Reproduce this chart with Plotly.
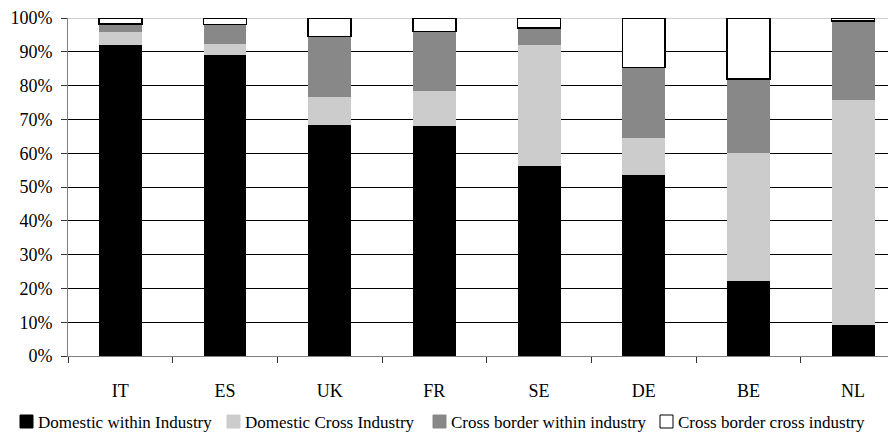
import plotly.graph_objects as go

countries = ["IT", "ES", "UK", "FR", "SE", "DE", "BE", "NL"]
domestic_within = [92.1, 89.0, 68.4, 68.0, 56.3, 53.6, 22.3, 9.1]
domestic_cross = [3.8, 3.2, 8.3, 10.4, 35.6, 10.9, 37.8, 66.5]
cross_border_within = [2.4, 5.9, 17.9, 17.6, 5.2, 20.8, 21.9, 23.5]
cross_border_cross = [1.7, 1.9, 5.4, 4.0, 2.9, 14.7, 18.0, 0.9]
series_names = ["Domestic within Industry", "Domestic Cross Industry",
                "Cross border within industry", "Cross border cross industry"]
y_ticks = list(range(0, 101, 10))
y_labels = [f"{v}%" for v in y_ticks]

fills = ["#000000", "#cccccc", "#888888", "#ffffff"]
outlines = ["#000000", "#cccccc", "#888888", "#000000"]
outline_w = [0, 0, 0, 1.5]
values = [domestic_within, domestic_cross, cross_border_within, cross_border_cross]

# page has an 8px body margin; compensate in figure size
W, H = 888, 429
ML, MR, MT, MB = 60, 0, 10, 81
PW, PH = W - ML - MR, H - MT - MB

fig = go.Figure()
for name, vals, col, lcol, lw in zip(series_names, values, fills, outlines, outline_w):
    fig.add_trace(go.Bar(
        x=countries, y=vals, name=name, showlegend=False,
        marker=dict(color=col, line=dict(color=lcol, width=lw)),
    ))

font = "Liberation Serif, Times New Roman, serif"

def px_x(sx):
    return (sx - 8 - ML) / PW

def px_y(sy):
    return (H - MB - (sy - 8)) / PH

# manual legend (screen pixel positions of squares)
legend_left = [20, 227, 433, 660]
sq = 13
legend_top = 415
for name, left, col in zip(series_names, legend_left, fills):
    fig.add_shape(type="rect", xref="paper", yref="paper",
                  x0=px_x(left), x1=px_x(left + sq),
                  y0=px_y(legend_top + sq), y1=px_y(legend_top),
                  fillcolor=col, line=dict(color="#000000" if col == "#ffffff" else col, width=1))
    fig.add_annotation(xref="paper", yref="paper", x=px_x(left + sq + 3),
                       y=px_y(legend_top + sq / 2 + 1), text=name, showarrow=False,
                       xanchor="left", yanchor="middle",
                       font=dict(family=font, size=17, color="black"))

# lighter top border line
fig.add_shape(type="line", xref="paper", yref="y", x0=0, x1=1, y0=100, y1=100,
              line=dict(color="#a0a0a0", width=1), layer="below")

fig.update_layout(
    width=W, height=H,
    barmode="stack", bargap=0.59,
    plot_bgcolor="white", paper_bgcolor="white",
    margin=dict(l=ML, r=MR, t=MT, b=MB, autoexpand=False),
    font=dict(family=font, size=18, color="black"),
    showlegend=False,
    xaxis=dict(
        range=[-0.5, 7.41], showline=True, linecolor="#808080", linewidth=1,
        ticks="outside", tickson="boundaries", ticklen=6, tickcolor="#333333",
        tickfont=dict(size=18), showgrid=False, ticklabelstandoff=18,
    ),
    yaxis=dict(
        range=[0, 100], tickvals=y_ticks, ticktext=y_labels,
        showline=True, linecolor="#808080", linewidth=1,
        ticks="outside", ticklen=6, tickcolor="#333333",
        showgrid=True, gridcolor="#000000", gridwidth=1,
        tickfont=dict(size=18), zeroline=False, ticklabelstandoff=5,
        ticklabeloverflow="allow",
    ),
)

fig.write_html("out.html")
